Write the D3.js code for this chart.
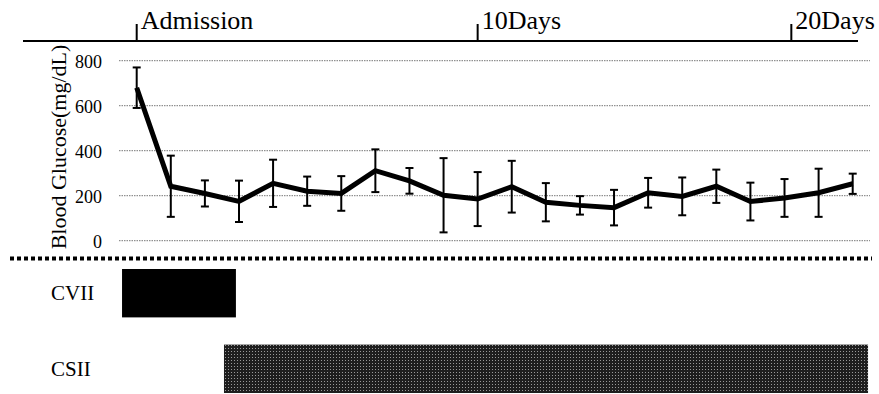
<!DOCTYPE html>
<html>
<head>
<meta charset="utf-8">
<script src="https://cdn.jsdelivr.net/npm/d3@7"></script>
<style>
  body { margin: 0; background: #fff; }
  svg { display: block; font-family: "Liberation Serif", "Times New Roman", serif; }
</style>
</head>
<body>
<svg width="879" height="394"></svg>
<script>
// blood glucose mean and SD per measurement point
const glucoseMean = [680, 242, 210, 175, 255, 220, 210, 311, 266, 202, 185, 240, 171, 157, 147, 213, 197, 242, 174, 190, 213, 253];
const glucoseSd = [90, 136, 58, 92, 105, 65, 77, 95, 57, 165, 120, 115, 85, 41, 79, 66, 84, 74, 84, 84, 107, 45];
const yTicks = [0, 200, 400, 600, 800];

// timeline marks (in measurement-point units)
const timeTicks = [0, 10, 19.2];
const timeLabels = ['Admission', '10Days', '20Days'];

// treatment periods
const treatments = ['CVII', 'CSII'];
const treatStart = [-0.43, 2.56];
const treatEnd = [2.91, 21.45];

const svg = d3.select('svg');

const x = d3.scaleLinear().domain([0, 21]).range([136.7, 852.7]);
const y = d3.scaleLinear().domain([0, 800]).range([240.7, 60.7]);

// pattern for CSII bar
const defs = svg.append('defs');
const pat = defs.append('pattern')
  .attr('id', 'dots')
  .attr('width', 3).attr('height', 3)
  .attr('patternUnits', 'userSpaceOnUse');
pat.append('rect').attr('width', 3).attr('height', 3).attr('fill', '#1e1e1e');
pat.append('rect').attr('width', 1).attr('height', 1).attr('fill', '#999');

// timeline at top
svg.append('line')
  .attr('x1', 23).attr('x2', 858)
  .attr('y1', 41).attr('y2', 41)
  .attr('stroke', '#000').attr('stroke-width', 2);

const tl = svg.append('g')
  .selectAll('g')
  .data(timeTicks)
  .enter()
  .append('g');

tl.append('line')
  .attr('x1', (d) => x(d)).attr('x2', (d) => x(d))
  .attr('y1', 41).attr('y2', 24)
  .attr('stroke', '#000').attr('stroke-width', 2);

tl.append('text')
  .attr('x', (d) => x(d) + 4)
  .attr('y', 29)
  .attr('font-size', 26)
  .text((d, i) => timeLabels[i]);

// y axis labels
const yAxis = d3.axisLeft(y)
  .tickValues(yTicks)
  .tickSize(0)
  .tickPadding(0);

const ag = svg.append('g')
  .attr('transform', 'translate(102,0)')
  .call(yAxis)
  .attr('font-family', '"Liberation Serif", serif')
  .attr('font-size', 18);
ag.select('.domain').remove();
ag.selectAll('text')
  .attr('fill', '#000')
  .attr('dy', '0.35em');

// gridlines
svg.append('g')
  .selectAll('line')
  .data(yTicks)
  .enter()
  .append('line')
  .attr('x1', 119).attr('x2', 870)
  .attr('y1', (d) => y(d)).attr('y2', (d) => y(d))
  .attr('stroke', '#777')
  .attr('stroke-width', 1)
  .attr('stroke-dasharray', '1.5,1');

svg.append('text')
  .attr('transform', 'translate(66,' + 147 + ') rotate(-90)')
  .attr('text-anchor', 'middle')
  .attr('font-size', 22)
  .text('Blood Glucose(mg/dL)');

// error bars
const eb = svg.append('g')
  .selectAll('g')
  .data(glucoseMean)
  .enter()
  .append('g')
  .attr('stroke', '#000')
  .attr('stroke-width', 2);

eb.append('line')
  .attr('x1', (d, i) => x(i)).attr('x2', (d, i) => x(i))
  .attr('y1', (d, i) => y(d + glucoseSd[i]))
  .attr('y2', (d, i) => y(d - glucoseSd[i]));
eb.append('line')
  .attr('x1', (d, i) => x(i) - 4).attr('x2', (d, i) => x(i) + 4)
  .attr('y1', (d, i) => y(d + glucoseSd[i]))
  .attr('y2', (d, i) => y(d + glucoseSd[i]));
eb.append('line')
  .attr('x1', (d, i) => x(i) - 4).attr('x2', (d, i) => x(i) + 4)
  .attr('y1', (d, i) => y(d - glucoseSd[i]))
  .attr('y2', (d, i) => y(d - glucoseSd[i]));

// mean line
const line = d3.line()
  .x((d, i) => x(i))
  .y((d) => y(d));

svg.append('path')
  .datum(glucoseMean)
  .attr('d', line)
  .attr('fill', 'none')
  .attr('stroke', '#000')
  .attr('stroke-width', 5)
  .attr('stroke-linejoin', 'miter');

// separator
svg.append('line')
  .attr('x1', 10).attr('x2', 872)
  .attr('y1', 258.5).attr('y2', 258.5)
  .attr('stroke', '#000')
  .attr('stroke-width', 4)
  .attr('stroke-dasharray', '4,3');

// treatment bars
const band = d3.scaleBand()
  .domain(treatments)
  .range([269, 393])
  .paddingInner(0.36);

svg.append('g')
  .selectAll('rect')
  .data(treatments)
  .enter()
  .append('rect')
  .attr('x', (d, i) => x(treatStart[i]))
  .attr('width', (d, i) => x(treatEnd[i]) - x(treatStart[i]))
  .attr('y', (d) => band(d))
  .attr('height', band.bandwidth())
  .attr('fill', (d, i) => i === 0 ? '#000' : 'url(#dots)');

svg.append('g')
  .selectAll('text')
  .data(treatments)
  .enter()
  .append('text')
  .attr('x', 51)
  .attr('y', (d) => band(d) + band.bandwidth() / 2 + 7)
  .attr('font-size', 21)
  .text((d) => d);
</script>
</body>
</html>
